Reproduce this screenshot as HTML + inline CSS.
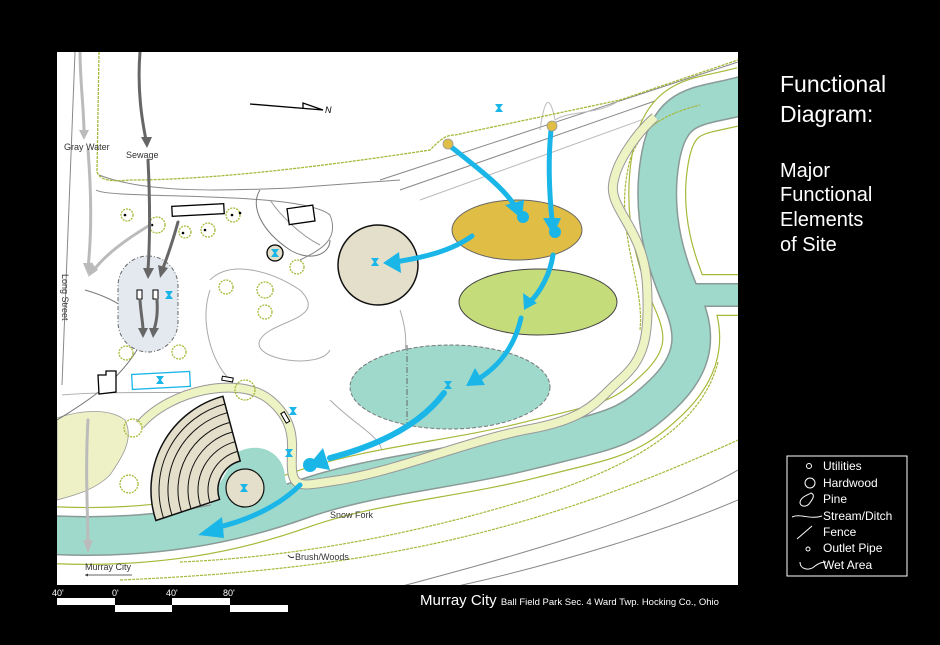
<!DOCTYPE html>
<html><head><meta charset="utf-8"><style>html,body{margin:0;padding:0;background:#000}svg{display:block}text{font-family:"Liberation Sans",sans-serif}</style></head><body>
<svg width="940" height="645" viewBox="0 0 940 645" xmlns="http://www.w3.org/2000/svg">
<rect width="940" height="645" fill="#000"/>
<rect x="57" y="52" width="681" height="533" fill="#fff"/>
<defs><clipPath id="c"><rect x="57" y="52" width="681" height="533"/></clipPath></defs>
<g clip-path="url(#c)">
<!-- left yellow area -->
<path d="M57,418 C80,410 110,408 125,420 C135,440 120,460 110,475 C95,490 75,495 57,500 Z" fill="#eef1c6" stroke="#999" stroke-width="0.8"/>
<!-- roads / gray lines -->
<g fill="none" stroke="#888" stroke-width="1">
<path d="M75,52 L62,385"/>
<path d="M99,175 C150,195 240,190 290,188 L400,180"/>
<path d="M96,190 C110,200 300,190 330,215 C340,240 320,250 300,260"/>
<path d="M380,180 L738,62"/>
<path d="M400,190 L738,72"/>
<path d="M420,200 L738,85" stroke="#bbb"/>
<path d="M380,592 C500,560 650,520 738,470"/>
<path d="M430,592 C560,565 680,525 738,500"/>
<path d="M62,395 C120,390 200,395 240,390" stroke="#aaa"/>
<path d="M57,420 C90,400 120,380 140,345 C150,320 120,300 85,290" stroke="#777"/>
<path d="M260,190 C250,205 260,230 290,250 C310,262 330,255 330,240" stroke="#777"/>
<path d="M270,200 C280,215 300,235 320,245" stroke="#999"/>
<path d="M210,280 C230,260 270,270 300,290 C330,320 270,320 260,340 C250,360 320,370 330,350" stroke="#aaa"/>
<path d="M210,290 C200,320 210,360 230,380" stroke="#aaa"/>
<path d="M400,310 C410,340 405,360 400,370" stroke="#aaa"/>
<path d="M330,400 C360,430 390,440 380,460" stroke="#aaa"/>
<path d="M540,130 C545,95 550,95 555,120 C570,110 600,115 620,100" stroke="#bbb"/>
</g>
<!-- hedge line top -->
<path d="M99,52 L97,172 C100,180 110,182 130,180 C200,180 300,170 430,150 C440,140 445,135 455,135 L620,100 L738,60" fill="none" stroke="#a8b83a" stroke-width="1.3" stroke-dasharray="3 1"/>
<!-- stream with hedges -->
<g fill="none" stroke-linecap="butt">
<path d="M50,535 C150,540 230,525 300,500 S450,470 530,450 S625,430 662,395 S695,330 682,300 S650,220 660,160 S700,108 745,95" stroke="#a8b83a" stroke-width="58"/>
<path d="M690,295 L745,295" stroke="#a8b83a" stroke-width="42"/>
<path d="M50,535 C150,540 230,525 300,500 S450,470 530,450 S625,430 662,395 S695,330 682,300 S650,220 660,160 S700,108 745,95" stroke="#fff" stroke-width="55.6"/>
<path d="M690,295 L745,295" stroke="#fff" stroke-width="39.6"/>
<path d="M50,535 C150,540 230,525 300,500 S450,470 530,450 S625,430 662,395 S695,330 682,300 S650,220 660,160 S700,108 745,95" stroke="#8a9a96" stroke-width="40"/>
<path d="M690,295 L745,295" stroke="#8a9a96" stroke-width="24"/>
<path d="M50,535 C150,540 230,525 300,500 S450,470 530,450 S625,430 662,395 S695,330 682,300 S650,220 660,160 S700,108 745,95" stroke="#9fd9cc" stroke-width="37"/>
<path d="M690,295 L745,295" stroke="#9fd9cc" stroke-width="21"/>
</g>
<!-- outer stream hedges -->
<g fill="none" stroke="#a8b83a" stroke-width="1.2" stroke-dasharray="3 1">
<path d="M180,562 C300,557 420,532 520,502 C620,472 700,432 718,362"/>
<path d="M120,580 C350,570 520,540 738,440"/>
<path d="M640,330 C645,280 612,230 630,160 C640,130 660,115 700,105"/>
</g>
<!-- wet area near amphitheater -->
<path d="M238,452 C262,440 285,455 285,478 C290,500 310,505 320,500 L250,522 C218,527 205,512 213,495 Z" fill="#9fd9cc"/>
<!-- yellow path -->
<path d="M140,425 C170,390 240,375 270,400 S290,450 292,470 S305,485 340,480 C400,470 470,440 530,429 S597,400 620,380 S650,340 647,285 S610,210 613,185 S640,130 655,117" fill="none" stroke="#999" stroke-width="10"/>
<path d="M140,425 C170,390 240,375 270,400 S290,450 292,470 S305,485 340,480 C400,470 470,440 530,429 S597,400 620,380 S650,340 647,285 S610,210 613,185 S640,130 655,117" fill="none" stroke="#eef3c4" stroke-width="8"/>
<!-- amphitheater -->
<path d="M222.9,396.3 A97,97 0 0 0 155.9,520.5 L219.5,499.4 A30,30 0 0 1 240.2,461 Z" fill="#e3dfca" stroke="#111" stroke-width="1.5"/>
<g fill="none" stroke="#111" stroke-width="1">
<path d="M237.6,451.4 A40,40 0 0 0 210,502.6"/>
<path d="M235.1,441.7 A50,50 0 0 0 200.5,505.7"/>
<path d="M232.5,432 A60,60 0 0 0 191,508.8"/>
<path d="M229.9,422.4 A70,70 0 0 0 181.5,512"/>
<path d="M227.3,412.7 A80,80 0 0 0 172,515.1"/>
<path d="M225,404 A89,89 0 0 0 163.5,517.9"/>
</g>
<circle cx="245" cy="488" r="19" fill="#e3dfca" stroke="#111" stroke-width="1.2"/>
<!-- ellipses -->
<circle cx="378" cy="265" r="40" fill="#e3dfca" stroke="#111" stroke-width="1.5"/>
<ellipse cx="517" cy="230" rx="65" ry="30" fill="#e0bd45" stroke="#666"/>
<ellipse cx="538" cy="302" rx="79" ry="33" fill="#c5dc7a" stroke="#444"/>
<ellipse cx="450" cy="387" rx="100" ry="42" fill="#9fd9cc" stroke="#777" stroke-dasharray="4 2"/>
<line x1="407" y1="345" x2="407" y2="430" stroke="#666" stroke-dasharray="6 2 1 2"/>
<!-- septic -->
<rect x="118" y="256" width="60" height="96" rx="30" fill="#e3e9ee" stroke="#666" stroke-dasharray="4 2 1 2"/>
<rect x="137" y="290" width="5" height="9" fill="#fff" stroke="#000"/>
<rect x="153" y="290" width="5" height="9" fill="#fff" stroke="#000"/>
<!-- buildings -->
<rect x="172" y="205" width="52" height="10" fill="#fff" stroke="#000" stroke-width="1.3" transform="rotate(-3 198 210)"/>
<rect x="288" y="207" width="26" height="16" fill="#fff" stroke="#000" stroke-width="1.3" transform="rotate(-8 300 215)"/>
<path d="M98,375 L106,375 L106,371 L116,371 L116,392 L99,394 Z" fill="#fff" stroke="#000" stroke-width="1.3"/>
<rect x="132" y="373" width="58" height="15" fill="#fff" stroke="#1ab6e8" stroke-width="1.3" transform="rotate(-3 160 380)"/>
<rect x="222" y="377" width="11" height="4" fill="#fff" stroke="#000" transform="rotate(10 227 379)"/>
<rect x="283" y="412" width="4" height="11" fill="#fff" stroke="#000" transform="rotate(-30 285 417)"/>
<circle cx="275" cy="253" r="8" fill="#e3dfca" stroke="#000" stroke-width="1.3"/>
<!-- trees -->
<g fill="none" stroke="#a8b83a" stroke-width="1.3" stroke-dasharray="2 1">
<circle cx="127" cy="215" r="6"/><circle cx="157" cy="225" r="8"/><circle cx="185" cy="232" r="6"/><circle cx="208" cy="230" r="7"/><circle cx="233" cy="215" r="7"/>
<circle cx="297" cy="267" r="7"/><circle cx="226" cy="287" r="7"/><circle cx="265" cy="290" r="8"/><circle cx="265" cy="312" r="7"/>
<circle cx="126" cy="353" r="7"/><circle cx="179" cy="352" r="7"/><circle cx="245" cy="390" r="10"/><circle cx="133" cy="428" r="9"/><circle cx="129" cy="484" r="9"/>
</g>
<g fill="#000"><circle cx="125" cy="215" r="1.3"/><circle cx="152" cy="225" r="1.3"/><circle cx="183" cy="233" r="1.3"/><circle cx="205" cy="230" r="1.3"/><circle cx="232" cy="215" r="1.3"/><circle cx="240" cy="213" r="1.3"/></g>
<!-- gray arrows -->
<g fill="none" stroke-linecap="round">
<path d="M80,52 C80,80 84,110 84,133" stroke="#bbb" stroke-width="3"/>
<path d="M88,150 C92,200 91,240 88,268" stroke="#bbb" stroke-width="3"/>
<path d="M150,225 C125,240 105,255 94,270" stroke="#bbb" stroke-width="3"/>
<path d="M88,420 C85,470 88,520 88,545" stroke="#bbb" stroke-width="3"/>
<path d="M140,52 C137,90 142,120 146,140" stroke="#666" stroke-width="3"/>
<path d="M148,160 C150,200 150,240 148,270" stroke="#666" stroke-width="3"/>
<path d="M178,222 C173,240 168,255 163,268" stroke="#666" stroke-width="3"/>
<path d="M140,300 C141,315 143,323 143,330" stroke="#666" stroke-width="3"/>
<path d="M157,300 C158,315 156,323 154,330" stroke="#666" stroke-width="3"/>
</g>
<g stroke="none">
<polygon points="79,130 89,130 84,140" fill="#bbb"/>
<polygon points="83,263 93,263 88,275" fill="#bbb"/>
<polygon points="91,262 98,270 88,277" fill="#bbb"/>
<polygon points="83,540 93,540 88,553" fill="#bbb"/>
<polygon points="141,137 152,137 147,148" fill="#666"/>
<polygon points="143,268 154,268 148,279" fill="#666"/>
<polygon points="158,265 168,268 160,278" fill="#666"/>
<polygon points="138,328 148,328 143,338" fill="#666"/>
<polygon points="149,328 159,328 153,338" fill="#666"/>
</g>
<!-- blue arrows -->
<g fill="none" stroke="#1ab6e8" stroke-linecap="round">
<path d="M450,146 C480,170 500,185 513,203" stroke-width="5"/>
<path d="M551,130 C548,160 549,190 552,220" stroke-width="5"/>
<path d="M472,236 C450,252 420,258 395,262" stroke-width="5"/>
<path d="M553,255 C550,275 540,292 530,302" stroke-width="5"/>
<path d="M521,318 C515,345 500,365 480,378" stroke-width="5"/>
<path d="M444,393 C420,425 380,445 330,458" stroke-width="6"/>
<path d="M300,485 C280,505 250,520 215,528" stroke-width="5"/>
</g>
<g fill="#1ab6e8">
<polygon points="505,205 524,200 522,219"/>
<circle cx="523" cy="217" r="6"/>
<polygon points="543,218 561,218 553,235"/>
<circle cx="555" cy="232" r="6"/>
<polygon points="399,252 383,263 401,273"/>
<polygon points="523,293 537,303 524,310"/>
<polygon points="475,368 485,385 466,386"/>
<polygon points="323,448 330,470 308,466"/>
<circle cx="310" cy="465" r="7"/>
<polygon points="222,517 198,535 224,538"/>
</g>
<g fill="#e0bd45" stroke="#999" stroke-width="0.8"><circle cx="448" cy="144" r="5"/><circle cx="552" cy="126" r="5"/></g>
<!-- hourglass symbols -->
<g fill="#1ab6e8">
<path d="M495,104 h8 l-3,4 l3,4 h-8 l3,-4 z"/>
<path d="M371,258 h8 l-3,4 l3,4 h-8 l3,-4 z"/>
<path d="M271,249 h8 l-3,4 l3,4 h-8 l3,-4 z"/>
<path d="M165,291 h8 l-3,4 l3,4 h-8 l3,-4 z"/>
<path d="M156,376 h8 l-3,4 l3,4 h-8 l3,-4 z"/>
<path d="M289,407 h8 l-3,4 l3,4 h-8 l3,-4 z"/>
<path d="M285,449 h8 l-3,4 l3,4 h-8 l3,-4 z"/>
<path d="M240,484 h8 l-3,4 l3,4 h-8 l3,-4 z"/>
<path d="M444,381 h8 l-3,4 l3,4 h-8 l3,-4 z"/>
</g>
<!-- north arrow -->
<path d="M250,104 L323,110 L303,103 L303,108" fill="none" stroke="#000" stroke-width="1.3"/>
<text x="325" y="113" font-size="9" font-style="italic">N</text>
<!-- labels -->
<text x="64" y="150" font-size="9" fill="#333">Gray Water</text>
<text x="126" y="158" font-size="9" fill="#333">Sewage</text>
<text x="62" y="274" font-size="9" fill="#333" transform="rotate(90 62 274)">Long Street</text>
<text x="330" y="518" font-size="9" fill="#333">Snow Fork</text>
<text x="295" y="560" font-size="9" fill="#333">Brush/Woods</text>
<path d="M288,555 C290,558 292,558 294,557" stroke="#333" fill="none"/>
<text x="85" y="570" font-size="9" fill="#333">Murray City</text>
<line x1="85" y1="575" x2="132" y2="575" stroke="#333" stroke-width="0.7"/>
<polygon points="85,575 88,573.5 88,576.5" fill="#333"/>
</g>
<!-- title -->
<g fill="#fff">
<text x="780" y="92" font-size="23">Functional</text>
<text x="780" y="122" font-size="23">Diagram:</text>
<text x="780" y="177" font-size="20">Major</text>
<text x="780" y="201" font-size="20">Functional</text>
<text x="780" y="226" font-size="20">Elements</text>
<text x="780" y="251" font-size="20">of Site</text>
<text x="420" y="605" font-size="15">Murray City <tspan font-size="9.5">Ball Field Park Sec. 4 Ward Twp. Hocking Co., Ohio</tspan></text>
</g>
<!-- legend -->
<rect x="787" y="456" width="120" height="120" fill="none" stroke="#fff" stroke-width="1"/>
<g fill="#fff" font-size="12">
<text x="823" y="470">Utilities</text>
<text x="823" y="487">Hardwood</text>
<text x="823" y="503">Pine</text>
<text x="823" y="520">Stream/Ditch</text>
<text x="823" y="536">Fence</text>
<text x="823" y="552">Outlet Pipe</text>
<text x="823" y="569">Wet Area</text>
</g>
<g fill="none" stroke="#fff" stroke-width="1">
<circle cx="809" cy="466" r="2.5"/>
<circle cx="810" cy="483" r="5"/>
<path d="M800,503 C800,497 808,495 811,493 C816,495 812,500 809,504 C806,507 801,507 800,503Z"/>
<path d="M792,517 C800,513 810,520 822,516"/>
<path d="M797,539 L812,526"/>
<circle cx="808" cy="549" r="2"/>
<path d="M800,562 C800,570 810,571 815,566 C819,563 822,562 826,562"/>
</g>
<!-- scale -->
<g fill="#fff">
<rect x="57" y="598" width="58" height="7"/><rect x="115" y="605" width="57" height="7"/>
<rect x="172" y="598" width="58" height="7"/><rect x="230" y="605" width="58" height="7"/>
<text x="52" y="596" font-size="9">40'</text><text x="112" y="596" font-size="9">0'</text>
<text x="166" y="596" font-size="9">40'</text><text x="223" y="596" font-size="9">80'</text>
</g>
</svg>
</body></html>
